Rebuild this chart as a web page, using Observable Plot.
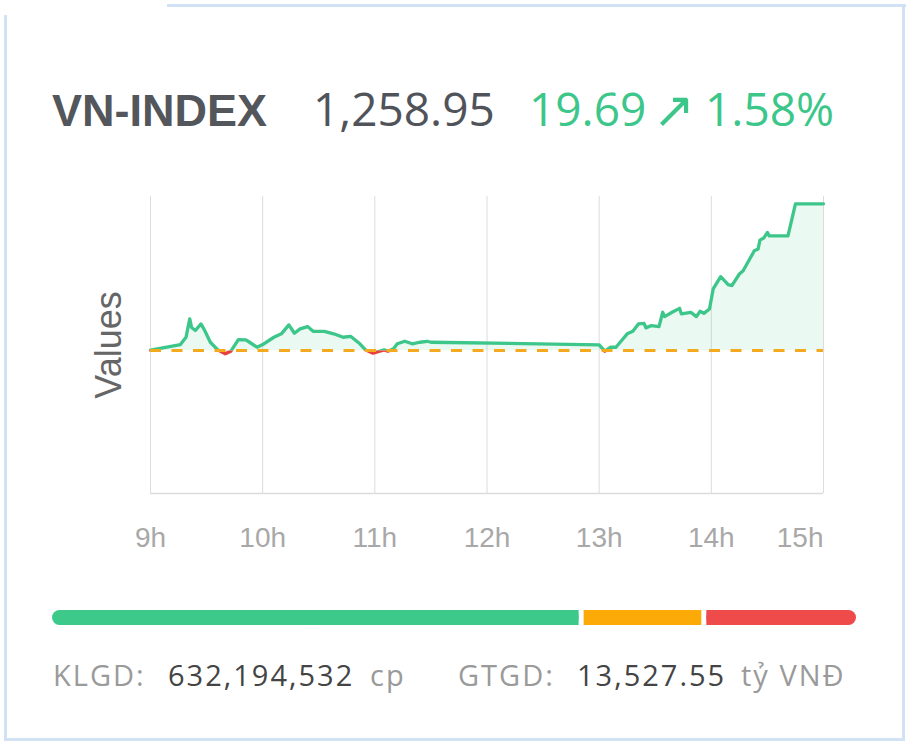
<!DOCTYPE html>
<html><head><meta charset="utf-8">
<script src="https://cdn.jsdelivr.net/npm/d3@7"></script>
<script src="https://cdn.jsdelivr.net/npm/@observablehq/plot@0.6"></script>
<style>
html,body{margin:0;padding:0;background:#fff}
body{width:915px;height:750px;overflow:hidden;position:relative;font-family:"Open Sans",sans-serif}
.b{position:absolute;background:#d0e2f3}
#chart,#bar,#hdr,#foot{position:absolute;left:0}
#chart{top:180px}
#bar{top:600px}
#hdr{top:0}
#foot{top:640px}
</style></head><body>
<div class="b" style="left:4px;top:15px;width:3px;height:723px"></div>
<div class="b" style="left:167px;top:4px;width:739px;height:3px"></div>
<div class="b" style="left:902px;top:4px;width:3px;height:734px"></div>
<div class="b" style="left:4px;top:738px;width:901px;height:3px"></div>
<svg id="hdr" width="915" height="180"></svg>
<div id="chart"></div>
<div id="bar"></div>
<svg id="foot" width="915" height="80"></svg>
<script>
// ---- data ----
const indexName = "VN-INDEX";
const lastValue = 1258.95;
const changeValue = 19.69;
const changePct = 1.58;
const refValue = 1239.26;
const hourTicks = [9, 10, 11, 12, 13, 14, 15];
const times = ["09:00","09:16","09:19","09:21","09:22","09:24","09:27","09:29","09:32","09:36",
  "09:40","09:43","09:47","09:51","09:53","09:57","10:00","10:06","10:10","10:14",
  "10:17","10:20","10:24","10:27","10:33","10:38","10:43","10:47","10:52","10:55",
  "10:59","11:05","11:07","11:10","11:12","11:16","11:20","11:24","11:28","11:30",
  "13:00","13:03","13:06","13:09","13:12","13:15","13:18","13:21","13:24","13:25",
  "13:28","13:32","13:34","13:35","13:39","13:43","13:44","13:49","13:52","13:54",
  "13:56","13:59","14:01","14:05","14:09","14:11","14:15","14:17","14:20","14:23",
  "14:25","14:26","14:28","14:30","14:31","14:41","14:45","15:00"];
const values = [1239.30,1240.06,1241.04,1243.50,1242.34,1241.94,1242.83,1241.94,1240.37,1239.35,
  1238.82,1239.17,1240.73,1240.69,1240.37,1239.70,1240.06,1241.04,1241.50,1242.70,
  1241.58,1242.16,1242.47,1241.84,1241.84,1241.50,1241.04,1241.17,1240.16,1239.35,
  1238.90,1239.35,1239.17,1239.49,1240.16,1240.50,1240.16,1240.37,1240.50,1240.37,
  1240.02,1239.17,1239.70,1239.70,1240.60,1241.50,1241.84,1242.83,1242.91,1242.30,
  1242.61,1242.47,1244.39,1243.81,1244.39,1244.92,1244.17,1244.39,1243.81,1244.52,
  1244.25,1244.84,1247.52,1249.17,1248.10,1247.96,1249.53,1249.97,1251.31,1252.65,
  1252.87,1254.08,1254.35,1255.10,1254.65,1254.65,1258.95,1258.95];
const breadthLabels = ["Tăng", "Đứng giá", "Giảm"];
const breadthCounts = [299, 69, 87];
const breadthColors = ["#3cc98a", "#fcaa08", "#ef4b4b"];
const volumeShares = 632194532;
const tradeValue = 13527.55;

const upColor = "#3cc68a", downColor = "#e8403a";
const ns = "http://www.w3.org/2000/svg";
function txt(svg, s, x, y, o) {
  const t = document.createElementNS(ns, "text");
  t.setAttribute("x", x); t.setAttribute("y", y);
  for (const k in o) t.setAttribute(k, o[k]);
  t.textContent = s; svg.appendChild(t); return t;
}

// ---- header ----
const hdr = document.getElementById("hdr");
txt(hdr, indexName, 52, 126, {"font-family": "Liberation Sans, Arial, sans-serif", "font-weight": "bold", "font-size": 45, fill: "#53565b"});
txt(hdr, d3.format(",.2f")(lastValue), 313, 126, {"font-family": "Open Sans", "font-size": 46, fill: "#50545a"});
txt(hdr, d3.format(".2f")(changeValue), 529, 126, {"font-family": "Open Sans", "font-size": 46, fill: upColor});
txt(hdr, "↗", 674, 127, {"font-family": "DejaVu Sans", "font-size": 50, fill: upColor, "text-anchor": "middle"});
txt(hdr, d3.format(".2f")(changePct) + "%", 705, 126, {"font-family": "Open Sans", "font-size": 46, fill: upColor});

// ---- main chart ----
const series = times.map((t, i) => {
  const [h, m] = t.split(":").map(Number);
  return {t: h + m / 60, v: values[i]};
});
const yDomain = [1220.07, 1259.93];
const lastTick = hourTicks[hourTicks.length - 1];
const chart = Plot.plot({
  width: 915, height: 383,
  marginLeft: 150, marginRight: 92, marginTop: 16, marginBottom: 70,
  style: {background: "transparent", fontFamily: "Liberation Sans, Arial, sans-serif", color: "#aaa"},
  x: {domain: [9, 15], axis: null},
  y: {domain: yDomain, axis: null},
  marks: [
    Plot.ruleX(hourTicks, {stroke: "#dcdcdc", strokeWidth: 1}),
    Plot.ruleY([yDomain[0]], {stroke: "#dcdcdc", strokeWidth: 1.5}),
    Plot.areaY(series, {x: "t", y1: refValue, y2: "v", fill: upColor, fillOpacity: 0.11}),
    Plot.areaY(series, {x: "t", y1: refValue, y2: "v", fill: downColor, fillOpacity: 0.11}),
    Plot.line(series, {x: "t", y: "v", stroke: upColor, strokeWidth: 3.3}),
    Plot.line(series, {x: "t", y: "v", stroke: downColor, strokeWidth: 3.3}),
    Plot.ruleY([refValue], {stroke: "#f4aa1e", strokeWidth: 3, strokeDasharray: "11,10.5"}),
    Plot.text(hourTicks.filter(h => h !== lastTick), {x: d => d, text: d => d + "h", frameAnchor: "bottom", dy: 53, fontSize: 28, fill: "#a8a8a8", textAnchor: "middle"}),
    Plot.text([lastTick], {x: d => d, text: d => d + "h", frameAnchor: "bottom", dy: 53, fontSize: 28, fill: "#a8a8a8", textAnchor: "end"}),
    Plot.text(["Values"], {text: d => d, frameAnchor: "left", dx: -41, rotate: -90, fontSize: 36, fill: "#666", textAnchor: "middle"})
  ]
});
const ys = chart.scale("y");
const yRef = ys.apply ? ys.apply(refValue) : d3.scaleLinear(ys.domain, ys.range)(refValue);
const defs = document.createElementNS(ns, "defs");
function clip(id, y, h) {
  const cp = document.createElementNS(ns, "clipPath"); cp.setAttribute("id", id);
  cp.setAttribute("clipPathUnits", "userSpaceOnUse");
  const r = document.createElementNS(ns, "rect");
  r.setAttribute("x", -10); r.setAttribute("y", y); r.setAttribute("width", 935); r.setAttribute("height", h);
  cp.appendChild(r); defs.appendChild(cp);
}
if (isFinite(yRef)) {
  clip("clipUp", -10, yRef + 10); clip("clipDown", yRef, 400 - yRef);
  chart.insertBefore(defs, chart.firstChild);
  [[`g[fill="${upColor}"]`, "clipUp"], [`g[stroke="${upColor}"]`, "clipUp"],
   [`g[fill="${downColor}"]`, "clipDown"], [`g[stroke="${downColor}"]`, "clipDown"]].forEach(([sel, c]) => {
    chart.querySelectorAll(sel).forEach(g => g.setAttribute("clip-path", `url(#${c})`));
  });
}
document.getElementById("chart").appendChild(chart);

// ---- breadth bar ----
const cum = d3.cumsum(breadthCounts);
const segs = breadthLabels.map((k, i) => ({k, x1: i ? cum[i - 1] : 0, x2: cum[i], c: breadthColors[i], i}));
const last = segs.length - 1;
const bar = Plot.plot({
  width: 915, height: 35, marginLeft: 49.5, marginRight: 56.5, marginTop: 10, marginBottom: 10,
  x: {domain: [0, cum[last]], axis: null},
  color: {type: "identity"},
  marks: [
    Plot.barX([segs[0], segs[last]], {x1: "x1", x2: "x2", fill: "c", rx: 7.5, insetLeft: 2.5, insetRight: 2.5}),
    Plot.barX(segs, {
      x1: d => d.i === 0 ? (d.x1 + d.x2) / 2 : d.x1,
      x2: d => d.i === last ? (d.x1 + d.x2) / 2 : d.x2,
      fill: "c", insetLeft: 2.5, insetRight: 2.5
    })
  ]
});
document.getElementById("bar").appendChild(bar);

// ---- footer ----
const foot = document.getElementById("foot");
const fy = 46;
const fo = {"font-family": "Open Sans", "font-size": 29, "letter-spacing": 2};
txt(foot, "KLGD:", 53, fy, {...fo, fill: "#9a9a9a"});
txt(foot, d3.format(",")(volumeShares), 168, fy, {...fo, fill: "#444"});
txt(foot, "cp", 370, fy, {...fo, fill: "#9a9a9a"});
txt(foot, "GTGD:", 458, fy, {...fo, fill: "#9a9a9a"});
txt(foot, d3.format(",.2f")(tradeValue), 577, fy, {...fo, fill: "#444"});
txt(foot, "tỷ VNĐ", 741, fy, {...fo, fill: "#9a9a9a"});
</script>
</body></html>
